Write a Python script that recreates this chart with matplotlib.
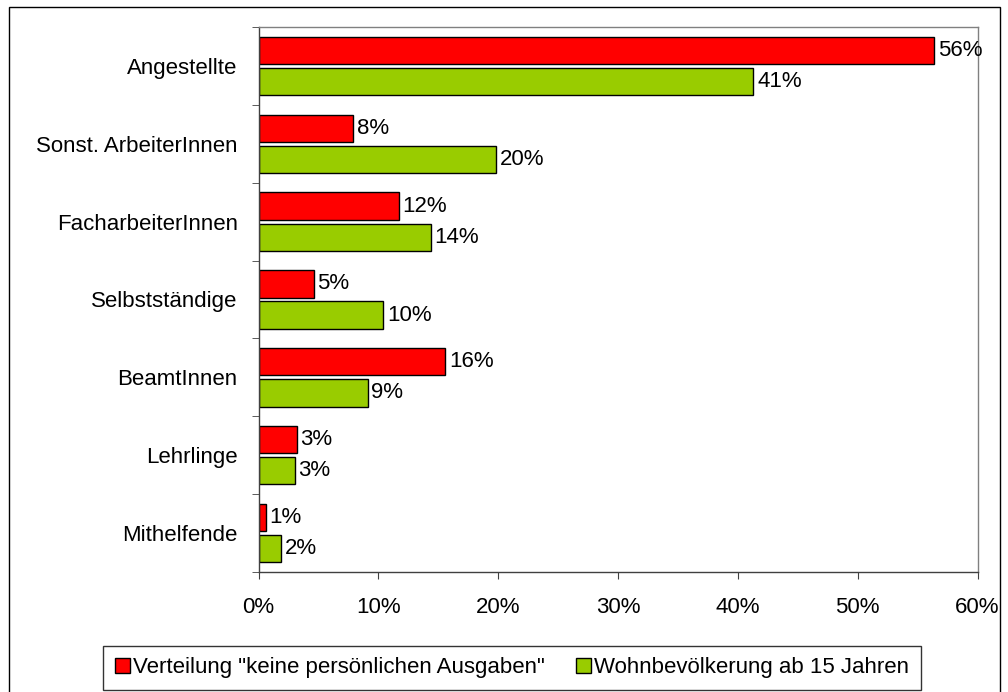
import numpy as np
import matplotlib
matplotlib.use('Agg')
import matplotlib.pyplot as plt
from matplotlib.patches import Rectangle

plt.rcParams['font.family'] = ['Liberation Sans', 'DejaVu Sans']

# ── Daten ────────────────────────────────────────────────────────────────────
kategorien = ['Angestellte', 'Sonst. ArbeiterInnen', 'FacharbeiterInnen',
              'Selbstständige', 'BeamtInnen', 'Lehrlinge', 'Mithelfende']
keine_ausgaben = [56.4, 7.9, 11.7, 4.6, 15.6, 3.2, 0.6]      # %
wohnbevoelkerung = [41.3, 19.8, 14.4, 10.4, 9.1, 3.0, 1.9]   # %
serien_namen = ['Verteilung "keine persönlichen Ausgaben"',
                'Wohnbevölkerung ab 15 Jahren']
x_ticks = [0, 10, 20, 30, 40, 50, 60]

ROT = '#FF0000'
GRUEN = '#99CC00'
FS = 16

fig = plt.figure(figsize=(10.08, 6.92), dpi=100)

# Rahmen um das Diagramm (unterer Rand liegt außerhalb des Bildes)
fig.patches.append(Rectangle((9 / 1008, -10 / 692), 991 / 1008, 695 / 692,
                             transform=fig.transFigure, fill=False,
                             edgecolor='black', lw=1.0))

ax = fig.add_axes([0.2565, 0.1734, 0.7133, 0.7876])

n = len(kategorien)
y = np.arange(n)[::-1].astype(float)
h = 0.35
gap = 0.025

b1 = ax.barh(y + h / 2 + gap, keine_ausgaben, height=h, color=ROT,
             edgecolor='black', lw=1.0, label=serien_namen[0])
b2 = ax.barh(y - h / 2 - gap, wohnbevoelkerung, height=h, color=GRUEN,
             edgecolor='black', lw=1.0, label=serien_namen[1])

for bars, werte in ((b1, keine_ausgaben), (b2, wohnbevoelkerung)):
    for bar, w in zip(bars, werte):
        ax.text(w + 0.3, bar.get_y() + bar.get_height() / 2, f'{w:.0f}%',
                va='center', ha='left', fontsize=FS)

ax.set_xlim(0, 60)
ax.set_ylim(-0.5, n - 0.5)
ax.set_xticks(x_ticks)
ax.set_xticklabels([f'{t}%' for t in x_ticks], fontsize=FS)
ax.set_yticks(y)
ax.set_yticklabels(kategorien, fontsize=FS)
ax.set_yticks(np.arange(n + 1) - 0.5, minor=True)
ax.tick_params(axis='y', which='major', length=0, pad=15)
ax.tick_params(axis='y', which='minor', length=5, direction='out', color='#404040')
ax.tick_params(axis='x', length=5, direction='out', pad=13, color='#404040')

ax.spines['top'].set_color('#808080')
ax.spines['right'].set_color('#808080')
ax.spines['left'].set_color('#404040')
ax.spines['bottom'].set_color('#404040')
for s in ax.spines.values():
    s.set_linewidth(1.0)

leg = fig.legend(handles=[b1, b2], loc='center', ncol=2,
                 bbox_to_anchor=(512 / 1008, 1 - 668 / 692), fontsize=FS,
                 frameon=True, fancybox=False, edgecolor='black',
                 handlelength=0.68, handleheight=0.68, handletextpad=0.15,
                 columnspacing=1.4, borderpad=0.5, borderaxespad=0)
leg.get_frame().set_linewidth(1.0)

fig.savefig('out.png', dpi=100)
